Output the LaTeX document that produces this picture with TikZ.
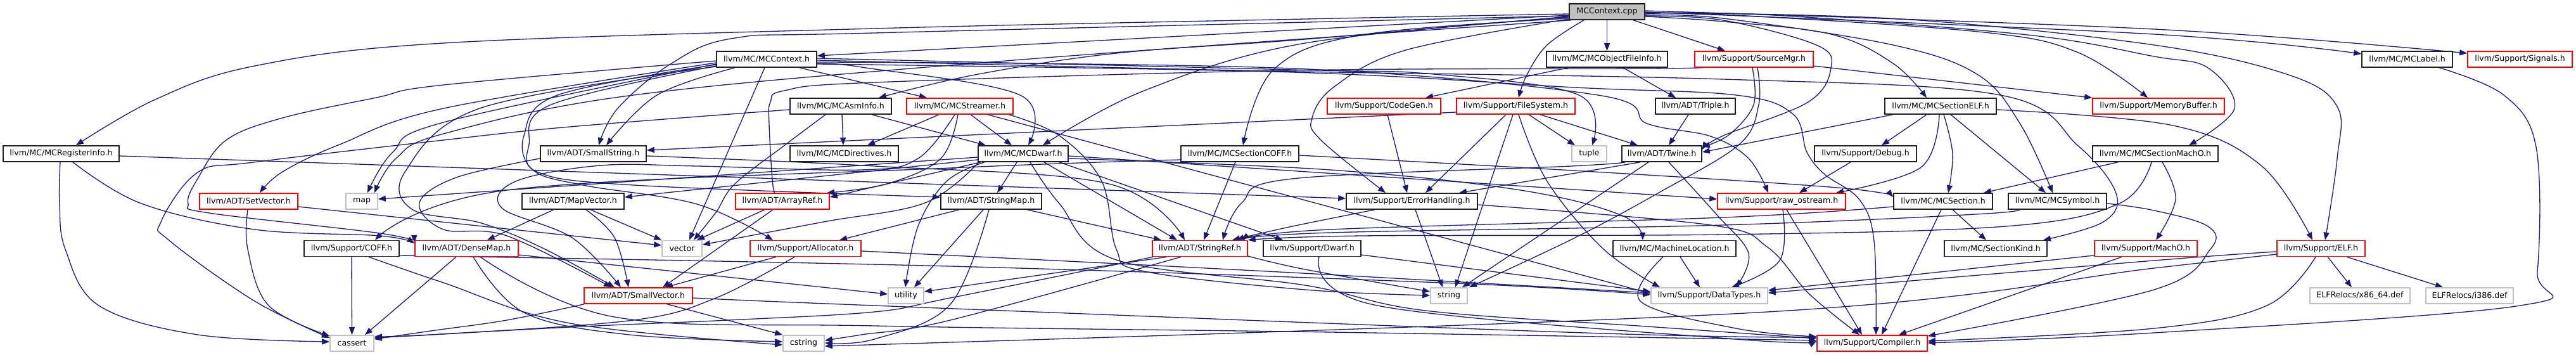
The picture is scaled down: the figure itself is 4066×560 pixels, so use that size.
\documentclass[tikz,border=0pt]{standalone}
\usepackage{fontspec}
\setmainfont{DejaVu Sans}
\usetikzlibrary{arrows.meta,backgrounds}
\definecolor{edgeblue}{HTML}{191970}
\definecolor{greyl}{HTML}{BFBFBF}
\definecolor{nred}{HTML}{FF0000}
\definecolor{nblack}{HTML}{202020}
\newcommand\nodefont{\fontsize{6.3pt}{7.5pt}\selectfont}
\newcommand\edgeC[1]{\draw[edg] plot[smooth,tension=0.6] coordinates {#1};}
\tikzset{
  box/.style={draw=nblack,line width=0.8pt,fill=white,minimum height=12.5pt,inner sep=0pt,font=\nodefont,text=black},
  rbox/.style={box,draw=nred},
  gbox/.style={box,draw=greyl},
  edg/.style={draw=edgeblue,line width=0.65pt,-{Triangle[length=6pt,width=4.5pt]}},
}
\begin{document}
\begin{tikzpicture}[x=0.5pt,y=-0.5pt]
\useasboundingbox (0,0) rectangle (4066,560);
% ---------- nodes ----------
\node[box,fill=greyl,minimum width=59.5pt] (cpp) at (2536.5,18.5) {MCContext.cpp};
\node[box,minimum width=79pt] (ctxh) at (1210,93.5) {llvm/MC/MCContext.h};
\node[box,minimum width=95.5pt] (ofi) at (2536.5,93.5) {llvm/MC/MCObjectFileInfo.h};
\node[rbox,minimum width=93.5pt] (smgr) at (2768.5,93.5) {llvm/Support/SourceMgr.h};
\node[box,minimum width=71.5pt] (lab) at (3799.5,93.5) {llvm/MC/MCLabel.h};
\node[rbox,minimum width=82.5pt] (sig) at (3977.5,93.5) {llvm/Support/Signals.h};
\node[box,minimum width=80pt] (asm) at (1327,167.5) {llvm/MC/MCAsmInfo.h};
\node[rbox,minimum width=84pt] (str) at (1515,167.5) {llvm/MC/MCStreamer.h};
\node[rbox,minimum width=89.5pt] (cg) at (2184.5,167.5) {llvm/Support/CodeGen.h};
\node[rbox,minimum width=93.5pt] (fs) at (2392.5,167.5) {llvm/Support/FileSystem.h};
\node[box,minimum width=63pt] (tri) at (2676,167.5) {llvm/ADT/Triple.h};
\node[box,minimum width=88pt] (elf) at (3063,167.5) {llvm/MC/MCSectionELF.h};
\node[rbox,minimum width=104pt] (mb) at (3407,167.5) {llvm/Support/MemoryBuffer.h};
\node[box,minimum width=91.5pt] (reg) at (96.5,242.5) {llvm/MC/MCRegisterInfo.h};
\node[box,minimum width=83.5pt] (sstr) at (936.5,242.5) {llvm/ADT/SmallString.h};
\node[box,minimum width=85.5pt] (dir) at (1332.5,242.5) {llvm/MC/MCDirectives.h};
\node[box,minimum width=71pt] (dw) at (1615,242.5) {llvm/MC/MCDwarf.h};
\node[box,minimum width=93pt] (coffs) at (1957,242.5) {llvm/MC/MCSectionCOFF.h};
\node[gbox,minimum width=27.5pt] (tuple) at (2508.5,242.5) {tuple};
\node[box,minimum width=63pt] (tw) at (2623,242.5) {llvm/ADT/Twine.h};
\node[box,minimum width=80.5pt] (dbg) at (2944.5,242.5) {llvm/Support/Debug.h};
\node[box,minimum width=99pt] (macho) at (3402,242.5) {llvm/MC/MCSectionMachO.h};
\node[rbox,minimum width=77.5pt] (sv) at (392.5,317.5) {llvm/ADT/SetVector.h};
\node[gbox,minimum width=25pt] (map) at (571,317.5) {map};
\node[box,minimum width=80.5pt] (mv) at (904.5,317.5) {llvm/ADT/MapVector.h};
\node[rbox,minimum width=74pt] (ar) at (1235,317.5) {llvm/ADT/ArrayRef.h};
\node[box,minimum width=79.5pt] (sm) at (1564.5,317.5) {llvm/ADT/StringMap.h};
\node[box,minimum width=103.5pt] (eh) at (2228.5,317.5) {llvm/Support/ErrorHandling.h};
\node[rbox,minimum width=101pt] (ro) at (2812,317.5) {llvm/Support/raw\_ostream.h};
\node[box,minimum width=78pt] (sec) at (3067,317.5) {llvm/MC/MCSection.h};
\node[box,minimum width=77.5pt] (sym) at (3247.5,317.5) {llvm/MC/MCSymbol.h};
\node[box,minimum width=75pt] (coff) at (555,392) {llvm/Support/COFF.h};
\node[rbox,minimum width=81.5pt] (dm) at (736.5,392) {llvm/ADT/DenseMap.h};
\node[gbox,minimum width=31.5pt] (vec) at (1076.5,392) {vector};
\node[rbox,minimum width=87.5pt] (alloc) at (1271.5,392) {llvm/Support/Allocator.h};
\node[rbox,minimum width=75pt] (sr) at (1894,392) {llvm/ADT/StringRef.h};
\node[box,minimum width=77pt] (sdw) at (2071,392) {llvm/Support/Dwarf.h};
\node[box,minimum width=97pt] (ml) at (2643,392) {llvm/MC/MachineLocation.h};
\node[box,minimum width=81pt] (sk) at (3150,392) {llvm/MC/SectionKind.h};
\node[rbox,minimum width=81pt] (mo) at (3387,392) {llvm/Support/MachO.h};
\node[rbox,minimum width=69.5pt] (selfh) at (3663.5,392) {llvm/Support/ELF.h};
\node[rbox,minimum width=85.5pt] (svec) at (1007.5,466.5) {llvm/ADT/SmallVector.h};
\node[gbox,minimum width=28pt] (util) at (1430,466.5) {utility};
\node[gbox,minimum width=29pt] (strg) at (2287,466.5) {string};
\node[gbox,minimum width=92pt] (dt) at (2698,466.5) {llvm/Support/DataTypes.h};
\node[gbox,minimum width=79pt] (x86) at (3725,466.5) {ELFRelocs/x86\_64.def};
\node[gbox,minimum width=69pt] (i386) at (3898,466.5) {ELFRelocs/i386.def};
\node[gbox,minimum width=34.5pt] (cas) at (555.5,541.5) {cassert};
\node[gbox,minimum width=32.5pt] (cstr) at (1268.5,541.5) {cstring};
\node[rbox,minimum width=87pt] (comp) at (2955,541.5) {llvm/Support/Compiler.h};
% ---------- edges ----------
\begin{scope}[on background layer]
\fill[white] (0,0) rectangle (4066,560);
% cpp
\draw[edg] (cpp.west |- 0,24) -- (ctxh.east |- 0,88);
\draw[edg] (cpp.south) -- (ofi.north);
\draw[edg] (2578,0 |- cpp.south) -- (2723,0 |- smgr.north);
\edgeC{(2500,0 |- cpp.south) (2442,71) (2410,118) (2397,0 |- fs.north)}
\edgeC{(cpp.west |- 0,22) (2060,30) (1380,45) (700,68) (402,104) (245,157) (120,0 |- reg.north)}
\edgeC{(cpp.west |- 0,26) (2060,62) (1762,84) (1539,118) (1387,0 |- asm.north)}
\edgeC{(cpp.west |- 0,25) (1380,52) (1160,60) (1060,100) (975,171) (945,0 |- sstr.north)}
\edgeC{(cpp.west |- 0,27) (2060,68) (1806,143) (1646,0 |- dw.north)}
\edgeC{(cpp.west |- 0,29) (2150,55) (2010,110) (1962,0 |- coffs.north)}
\edgeC{(cpp.east |- 0,25) (2720,32) (2867,71) (2890,107) (2854,161) (2720,214) (tw.east |- 0,236)}
\edgeC{(cpp.east |- 0,26) (2720,34) (2890,54) (2988,100) (3041,0 |- elf.north)}
\edgeC{(cpp.east |- 0,24) (2720,29) (2988,71) (3122,118) (3189,196) (3240,0 |- sym.north)}
\edgeC{(cpp.east |- 0,22) (2720,23) (3122,50) (3278,82) (3390,0 |- mb.north)}
\edgeC{(cpp.east |- 0,21) (2800,24) (3200,55) (3400,89) (3485,107) (3527,171) (3455,0 |- macho.north)}
\edgeC{(cpp.east |- 0,20) (3000,30) (3400,71) (3612,118) (3689,168) (3689,250) (3670,0 |- selfh.north)}
\edgeC{(cpp.east |- 0,19) (3400,54) (lab.west |- 0,85)}
\edgeC{(cpp.east |- 0,17) (3400,46) (sig.west |- 0,84)}
\edgeC{(cpp.west |- 0,30) (2219,79) (2107,136) (2071,186) (2085,221) (2187,0 |- eh.north)}
\edgeC{(2480,0 |- cpp.south) (1600,95) (1000,150) (700,211) (625,250) (591,0 |- map.north)}
% ctxh
\edgeC{(ctxh.west |- 0,99) (700,171) (536,228) (446,271) (410,0 |- sv.north)}
\edgeC{(ctxh.west |- 0,101) (700,193) (620,240) (580,0 |- map.north)}
\edgeC{(ctxh.west |- 0,96) (700,134) (594,154) (446,186) (357,221) (312,282) (297,321) (330,336) (600,368) (dm.west |- 0,383)}
\edgeC{(1160,0 |- ctxh.south) (1037,150) (957,0 |- sstr.north)}
\draw[edg] (1207,0 |- ctxh.south) -- (1088,0 |- vec.north);
\draw[edg] (1262,0 |- ctxh.south) -- (1463,0 |- str.north);
\edgeC{(ctxh.east |- 0,100) (1360,106) (1610,150) (1623,0 |- dw.north)}
\edgeC{(ctxh.west |- 0,104) (870,165) (835,228) (850,272) (1000,292) (sm.west |- 0,311)}
\edgeC{(ctxh.west |- 0,102) (880,150) (827,214) (841,268) (920,292) (1100,322) (1220,0 |- alloc.north)}
\edgeC{(ctxh.west |- 0,105) (760,170) (640,270) (650,330) (760,352) (860,393) (970,0 |- svec.north)}
\edgeC{(ctxh.east |- 0,95) (2000,112) (2720,125) (3157,150) (3280,230) (3340,305) (3320,350) (3225,0 |- sk.north)}
\edgeC{(ctxh.east |- 0,98) (2040,108) (2522,150) (2600,195) (2700,215) (2760,250) (2791,0 |- ro.north)}
\edgeC{(ctxh.east |- 0,92) (2040,110) (2263,117) (2492,150) (2513,0 |- tuple.north)}
\edgeC{(ctxh.east |- 0,101) (2040,114) (2486,138) (2740,150) (2830,180) (2852,240) (2880,275) (2935,315) (2958,380) (2961,0 |- comp.north)}
% asm
\edgeC{(asm.west |- 0,173) (900,200) (700,221) (400,256) (312,272) (254,350) (268,380) (402,475) (cas.west |- 0,533)}
\edgeC{(1303,0 |- asm.south) (1240,228) (1160,290) (1130,335) (1095,0 |- vec.north)}
\draw[edg] (1329,0 |- asm.south) -- (1331,0 |- dir.north);
\draw[edg] (1376,0 |- asm.south) -- (1556,0 |- dw.north);
% str
\draw[edg] (1482,0 |- str.south) -- (1369,0 |- dir.north);
\draw[edg] (1532,0 |- str.south) -- (1597,0 |- dw.north);
\edgeC{(1507,0 |- str.south) (1449,250) (1360,268) (1100,262) (948,261) (814,286) (792,328) (903,375) (980,0 |- svec.north)}
\edgeC{(1512,0 |- str.south) (1485,250) (1400,290) (1305,0 |- ar.north)}
\edgeC{(1592,0 |- str.south) (1672,214) (1739,286) (1762,393) (1806,428) (2060,457) (strg.west |- 0,466)}
\draw[edg] (1559,0 |- str.south) -- (dt.west |- 0,463);
% dw
\edgeC{(1554,0 |- dw.south) (1494,286) (1449,357) (1429,0 |- util.north)}
\draw[edg] (1605,0 |- dw.south) -- (1574,0 |- sm.north);
\edgeC{(1626,0 |- dw.south) (1672,321) (1762,410) (2060,450) (2250,490) (2600,515) (comp.west |- 0,534)}
\draw[edg] (1648,0 |- dw.south) -- (1858,0 |- sr.north);
\draw[edg] (1672,0 |- dw.south) -- (2025,0 |- sdw.north);
\edgeC{(dw.east |- 0,250) (2100,268) (2400,300) (2560,340) (2593,0 |- ml.north)}
\draw[edg] (dw.east |- 0,246) -- (ro.west |- 0,314);
\draw[edg] (dw.west |- 0,248) -- (map.east |- 0,314);
\draw[edg] (1548,0 |- dw.south) -- (ar.east |- 0,311);
\draw[edg] (dw.west |- 0,252) -- (mv.east |- 0,311);
\edgeC{(1545,0 |- dw.south) (1460,320) (1300,350) (vec.east |- 0,386)}
% sstr
\edgeC{(sstr.west |- 0,250) (720,280) (662,320) (700,362) (800,372) (965,0 |- svec.north)}
\edgeC{(sstr.east |- 0,246) (1380,262) (1750,290) (1870,0 |- sr.north)}
% mv
\draw[edg] (874,0 |- mv.south) -- (769,0 |- dm.north);
\edgeC{(925,0 |- mv.south) (970,375) (992,0 |- svec.north)}
\draw[edg] (932,0 |- mv.south) -- (vec.north west);
% ar
\draw[edg] (1207,0 |- ar.south) -- (1100,0 |- vec.north);
\draw[edg] (1220,0 |- ar.south) -- (1046,0 |- svec.north);
% dm
\draw[edg] (720,0 |- dm.south) -- (576,0 |- cas.north);
\edgeC{(747,0 |- dm.south) (827,493) (993,528) (cstr.west |- 0,539)}
\draw[edg] (dm.east |- 0,402) -- (util.west |- 0,464);
\edgeC{(758,0 |- dm.south) (970,500) (1380,514) (2100,524) (comp.west |- 0,537)}
% coff
\draw[edg] (coff.south) -- (cas.north);
\edgeC{(582,0 |- coff.south) (700,446) (900,510) (cstr.west |- 0,544)}
\edgeC{(coff.east |- 0,403) (1500,420) (2300,447) (dt.west |- 0,465)}
% alloc
\draw[edg] (1225,0 |- alloc.south) -- (1050,0 |- svec.north);
\edgeC{(1254,0 |- alloc.south) (1130,470) (1000,505) (700,527) (cas.east |- 0,531)}
\edgeC{(alloc.east |- 0,396) (2000,428) (dt.west |- 0,462)}
% svec
\draw[edg] (1053,0 |- svec.south) -- (cstr.north west);
\edgeC{(922,0 |- svec.south) (800,505) (680,522) (cas.east |- 0,535)}
\edgeC{(svec.east |- 0,470) (1380,482) (2500,525) (comp.west |- 0,532)}
% sm
\draw[edg] (1514,0 |- sm.south) -- (1325,0 |- alloc.north);
\draw[edg] (1552,0 |- sm.south) -- (1443,0 |- util.north);
\edgeC{(1561,0 |- sm.south) (1500,480) (1380,535) (cstr.east |- 0,541)}
\draw[edg] (1621,0 |- sm.south) -- (1833,0 |- sr.north);
% sr
\draw[edg] (1842,0 |- sr.south) -- (util.east |- 0,460);
\edgeC{(1820,0 |- sr.south) (1500,470) (1380,492) (1150,505) (900,516) (cas.east |- 0,533)}
\edgeC{(1864,0 |- sr.south) (1500,505) (1360,528) (cstr.east |- 0,537)}
\edgeC{(sr.east |- 0,404) (2060,425) (strg.west |- 0,460)}
% sdw
\draw[edg] (sdw.east |- 0,402) -- (dt.west |- 0,460);
\edgeC{(2082,0 |- sdw.south) (2174,482) (2740,535) (comp.west |- 0,538)}
% ml
\draw[edg] (2652,0 |- ml.south) -- (2683,0 |- dt.north);
\edgeC{(2625,0 |- ml.south) (2589,475) (2740,518) (comp.west |- 0,531)}
% eh
\edgeC{(2170,0 |- eh.south) (2040,357) (1945,0 |- sr.north)}
\draw[edg] (2234,0 |- eh.south) -- (2277,0 |- strg.north);
\edgeC{(eh.east |- 0,323) (2700,355) (2790,390) (2856,464) (2935,0 |- comp.north)}
% ro
\edgeC{(2814,0 |- ro.south) (2809,411) (2733,0 |- dt.north)}
\draw[edg] (2820,0 |- ro.south) -- (2939,0 |- comp.north);
% dbg
\draw[edg] (2921,0 |- dbg.south) -- (2840,0 |- ro.north);
% elf
\draw[edg] (2988,0 |- elf.south) -- (tw.east |- 0,240);
\draw[edg] (3041,0 |- elf.south) -- (2970,0 |- dbg.north);
\edgeC{(3061,0 |- elf.south) (3032,264) (2898,0 |- ro.north)}
\edgeC{(3068,0 |- elf.south) (3082,243) (3075,0 |- sec.north)}
\draw[edg] (3079,0 |- elf.south) -- (3229,0 |- sym.north);
\edgeC{(elf.east |- 0,173) (3430,198) (3570,262) (3650,0 |- selfh.north)}
% macho
\draw[edg] (3343,0 |- macho.south) -- (3131,0 |- sec.north);
\edgeC{(3413,0 |- macho.south) (3434,314) (3403,0 |- mo.north)}
\edgeC{(3396,0 |- macho.south) (3345,321) (3166,357) (2720,370) (2150,372) (sr.north east)}
% sec
\draw[edg] (3082,0 |- sec.south) -- (3135,0 |- sk.north);
\draw[edg] (3064,0 |- sec.south) -- (2970,0 |- comp.north);
\edgeC{(sec.west |- 0,326) (2720,343) (2100,362) (1960,0 |- sr.north)}
% sym
\edgeC{(sym.west |- 0,325) (3150,336) (2720,355) (2100,367) (1952,0 |- sr.north)}
\edgeC{(sym.east |- 0,321) (3400,332) (3485,357) (3489,393) (3400,457) (comp.east |- 0,530)}
% mo
\draw[edg] (3349,0 |- mo.south) -- (2997,0 |- comp.north);
\draw[edg] (mo.west |- 0,403) -- (dt.east |- 0,458);
% selfh
\draw[edg] (3674,0 |- selfh.south) -- (3712,0 |- x86.north);
\draw[edg] (3704,0 |- selfh.south) -- (3856,0 |- i386.north);
\edgeC{(3655,0 |- selfh.south) (3578,482) (3400,518) (comp.east |- 0,538)}
\edgeC{(selfh.west |- 0,397) (3400,411) (dt.east |- 0,462)}
\edgeC{(selfh.west |- 0,401) (3400,423) (2790,492) (cstr.east |- 0,546)}
% lab
\edgeC{(3850,0 |- lab.south) (3952,150) (4003,232) (4005,428) (3978,482) (3400,525) (comp.east |- 0,541)}
% ofi, tri
\draw[edg] (2475,0 |- ofi.south) -- (2250,0 |- cg.north);
\draw[edg] (2562,0 |- ofi.south) -- (2645,0 |- tri.north);
\draw[edg] (2665,0 |- tri.south) -- (2634,0 |- tw.north);
% smgr
\draw[edg] (smgr.east |- 0,104) -- (mb.north west);
\edgeC{(2766,0 |- smgr.south) (2768,165) (2730,212) (tw.east |- 0,232)}
\edgeC{(2774,0 |- smgr.south) (2776,165) (2745,228) (2620,303) (2486,375) (2319,0 |- strg.north)}
\edgeC{(smgr.west |- 0,104) (2632,108) (2040,111) (1380,130) (1238,143) (1216,161) (1214,196) (1220,293) (1227,0 |- ar.north)}
% cg
\draw[edg] (2190,0 |- cg.south) -- (2221,0 |- eh.north);
% fs
\draw[edg] (fs.west |- 0,177) -- (sstr.east |- 0,237);
\draw[edg] (2377,0 |- fs.south) -- (2250,0 |- eh.north);
\draw[edg] (2388,0 |- fs.south) -- (2297,0 |- strg.north);
\edgeC{(2397,0 |- fs.south) (2442,286) (2531,393) (2620,0 |- dt.north)}
\draw[edg] (2413,0 |- fs.south) -- (2486,0 |- tuple.north);
\draw[edg] (2431,0 |- fs.south) -- (2585,0 |- tw.north);
% tw
\draw[edg] (2589,0 |- tw.south) -- (2303,0 |- eh.north);
\draw[edg] (2602,0 |- tw.south) -- (2308,0 |- strg.north);
\edgeC{(2634,0 |- tw.south) (2710,339) (2760,400) (2740,0 |- dt.north)}
\edgeC{(2565,0 |- tw.south) (2480,262) (2040,282) (1960,320) (1930,0 |- sr.north)}
% reg
\draw[edg] (reg.east |- 0,246) -- (eh.west |- 0,313);
\edgeC{(95,0 |- reg.south) (94,321) (103,393) (156,482) (312,528) (cas.west |- 0,539)}
\edgeC{(115,0 |- reg.south) (223,321) (402,362) (600,372) (dm.west |- 0,384)}
% sv
\edgeC{(391,0 |- sv.south) (391,393) (424,482) (cas.west |- 0,530)}
\draw[edg] (sv.east |- 0,326) -- (vec.west |- 0,387);
% coffs
\draw[edg] (1950,0 |- coffs.south) -- (1900,0 |- sr.north);
\edgeC{(coffs.west |- 0,252) (1500,265) (800,300) (592,0 |- coff.north)}
\edgeC{(coffs.east |- 0,245) (2500,270) (2900,296) (sec.west |- 0,311)}
\end{scope}
\end{tikzpicture}
\end{document}
